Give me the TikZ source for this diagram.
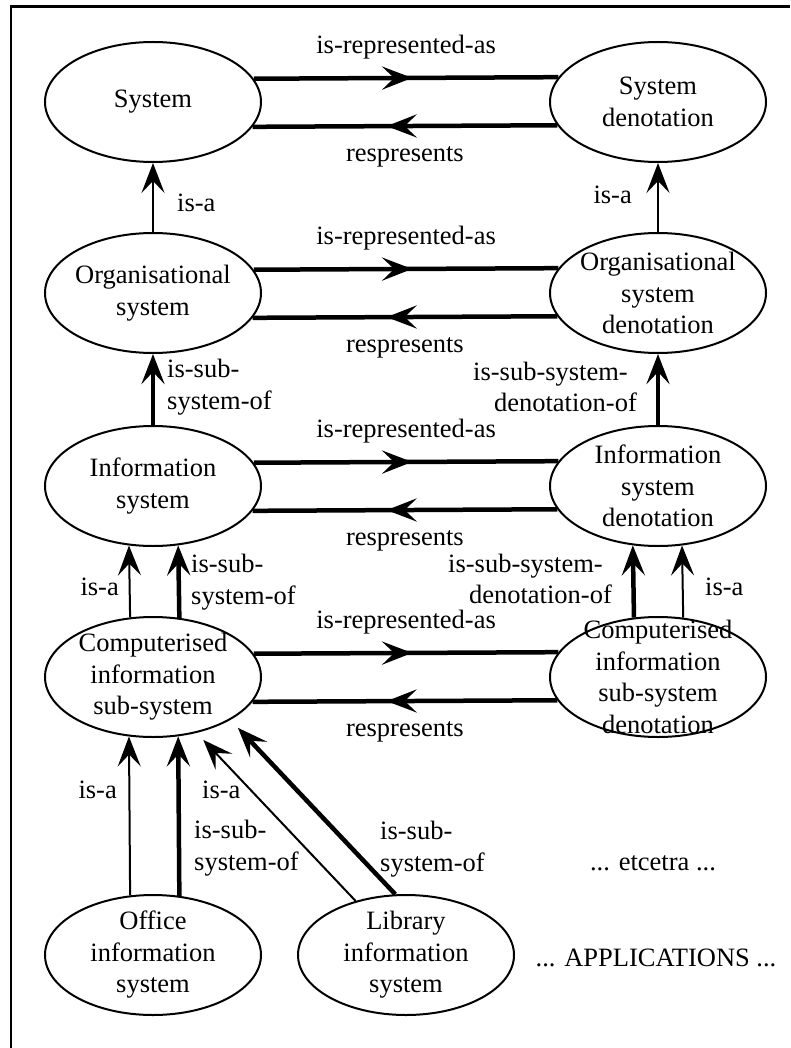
\documentclass[tikz,border=0pt]{standalone}
\usepackage{fontspec}
\setmainfont{Liberation Serif}
\usetikzlibrary{arrows.meta,decorations.markings,shapes.geometric}
\begin{document}
\begin{tikzpicture}[x=1pt,y=-1pt,
  every node/.style={font=\fontsize{26.5}{31.5}\selectfont, inner sep=0pt},
  ell/.style={draw, ellipse, line width=2pt, minimum width=216pt, minimum height=120pt, inner sep=0pt},
  etxt/.style={align=center},
  >={Stealth[length=30pt,width=23pt,inset=12pt]},
  thinarr/.style={line width=2pt, ->},
  thickarr/.style={line width=4.5pt, ->},
  rep/.style={line width=4.5pt, postaction={decorate},
    decoration={markings, mark=at position #1 with {\arrow{>}}}},
  toplbl/.style={yshift=31pt},
  botlbl/.style={yshift=-31pt}
]
\useasboundingbox (0,0) rectangle (790,1048);
\draw[line width=2.5pt] (11,1048) -- (11,6.5) -- (790,6.5);

% ellipses
\node[ell] (sys)  at (153,102) {};
\node[ell] (sd)   at (658,102) {};
\node[ell] (org)  at (153,293) {};
\node[ell] (osd)  at (658,293) {};
\node[ell] (inf)  at (153,486) {};
\node[ell] (isd)  at (658,486) {};
\node[ell] (comp) at (153,677) {};
\node[ell] (cd)   at (658,677) {};
\node[ell] (off)  at (153,955) {};
\node[ell] (lib)  at (406,955) {};

\node[etxt] (sysT)  at (sys)  {System};
\node[etxt] (sdT)   at (sd)   {System\\denotation};
\node[etxt] (orgT)  at (org)  {Organisational\\system};
\node[etxt] (osdT)  at (osd)  {Organisational\\system\\denotation};
\node[etxt] (infT)  at (inf)  {Information\\system};
\node[etxt] (isdT)  at (isd)  {Information\\system\\denotation};
\node[etxt] (compT) at (comp) {Computerised\\information\\sub-system};
\node[etxt] (cdT)   at (cd)   {Computerised\\information\\sub-system\\denotation};
\node[etxt] (offT)  at (off)  {Office\\information\\system};
\node[etxt] (libT)  at (lib)  {Library\\information\\system};

% horizontal pairs
\draw[rep=0.52] (sys.13.63) -- node[toplbl] (r1a) {is-represented-as} (sd.166.37);
\draw[rep=0.56] (sd.193.63) -- node[botlbl] (r1b) {respresents} (sys.346.37);
\draw[rep=0.52] (org.13.63) -- node[toplbl] (r2a) {is-represented-as} (osd.166.37);
\draw[rep=0.56] (osd.193.63) -- node[botlbl] (r2b) {respresents} (org.346.37);
\draw[rep=0.52] (inf.13.63) -- node[toplbl] (r3a) {is-represented-as} (isd.166.37);
\draw[rep=0.56] (isd.193.63) -- node[botlbl] (r3b) {respresents} (inf.346.37);
\draw[rep=0.52] (comp.13.63) -- node[toplbl] (r4a) {is-represented-as} (cd.166.37);
\draw[rep=0.56] (cd.193.63) -- node[botlbl] (r4b) {respresents} (comp.346.37);

% vertical connectors
\draw[thinarr] (org.north) -- (sys.south);
\draw[thinarr] (osd.north) -- (sd.south);
\draw[thickarr] (inf.north) -- (org.south);
\draw[thickarr] (isd.north) -- (osd.south);
\draw[thinarr] (comp.111.42) -- (inf.248.58);
\draw[thickarr] (comp.66.81) -- (inf.293.19);
\draw[thickarr] (cd.112.31) -- (isd.247.69);
\draw[thinarr] (cd.67.69) -- (isd.292.31);
\draw[thinarr] (off.111.42) -- (comp.248.58);
\draw[thickarr] (off.66.81) -- (comp.293.19);
\draw[thinarr, shorten >=9.6pt] (lib.133.9) -- (comp.308.3);
\draw[thickarr, shorten >=10.8pt] (lib.100) -- (comp.331.15);

% labels
\node[anchor=west] (l1) at (177,203) {is-a};
\node[anchor=east] (l2) at (632,195) {is-a};
\node[anchor=west, align=left] (l3) at (167,387) {is-sub-\\system-of};
\node[anchor=east, align=right] (l4) at (637,387) {is-sub-system-\hspace*{9pt}\\denotation-of};
\node[anchor=east] (l5) at (119,587) {is-a};
\node[anchor=west, align=left] (l6) at (191,582) {is-sub-\\system-of};
\node[anchor=east, align=right] (l7) at (612,579) {is-sub-system-\hspace*{9pt}\\denotation-of};
\node[anchor=west] (l8) at (705,587) {is-a};
\node[anchor=east] (l9) at (117,790) {is-a};
\node[anchor=west, align=left] (l10) at (194,848) {is-sub-\\system-of};
\node[anchor=west] (l11) at (202,790) {is-a};
\node[anchor=west, align=left] (l12) at (380,849) {is-sub-\\system-of};
\node (etc) at (653,863) {... etcetra ...};
\node (app) at (656,958) {... APPLICATIONS ...};
\end{tikzpicture}
\end{document}
